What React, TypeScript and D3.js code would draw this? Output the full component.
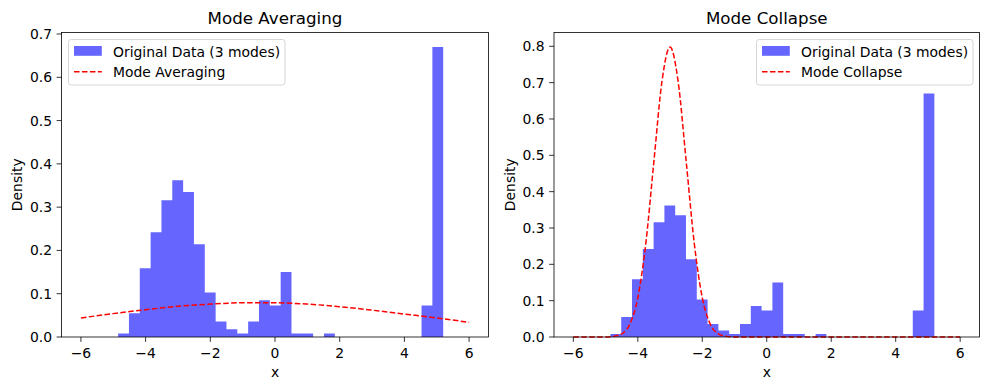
import * as d3 from "d3";

// histogram of the original data (density per bin), 30 equal bins
const histStart = -4.85;
const histEnd = 5.2;
const densities = [
  0.008, 0.055, 0.159, 0.242, 0.316, 0.362, 0.335, 0.214, 0.103, 0.036,
  0.018, 0.008, 0.036, 0.085, 0.073, 0.15, 0.008, 0.008, 0, 0.008,
  0, 0, 0, 0, 0, 0, 0, 0, 0.073, 0.67,
];

// mode averaging curve
const averagingX = [-6, -5, -4, -3, -2, -1, 0, 1, 2, 3, 4, 5, 6];
const averagingY = [0.044, 0.054, 0.063, 0.071, 0.076, 0.079, 0.079, 0.076, 0.07, 0.062, 0.053, 0.044, 0.034];

// mode collapse curve
const collapseX = [-6, -5.5, -5, -4.75, -4.5, -4.25, -4, -3.75, -3.5, -3.25, -3, -2.75, -2.5, -2.25, -2, -1.75, -1.5, -1.25, -1, -0.5, 6];
const collapseY = [0, 0, 0.0001, 0.0017, 0.0089, 0.035, 0.108, 0.259, 0.484, 0.704, 0.798, 0.704, 0.484, 0.259, 0.108, 0.035, 0.0089, 0.0017, 0.0001, 0, 0];

const xTicks = [-6, -4, -2, 0, 2, 4, 6];
const leftYTicks = [0, 0.1, 0.2, 0.3, 0.4, 0.5, 0.6, 0.7];
const rightYTicks = [0, 0.1, 0.2, 0.3, 0.4, 0.5, 0.6, 0.7, 0.8];

const FONT = "DejaVu Sans";
const TOP = 32.5;
const BOTTOM = 337;

function fmtTick(v: number) {
  return v < 0 ? "\u2212" + Math.abs(v) : String(v);
}

function Panel({ x0, x1, title, yMax, yTicks, lineX, lineY, lineName, legendLeft, yLabelX }) {
  const x = d3.scaleLinear().domain([-6.6, 6.6]).range([x0, x1]);
  const y = d3.scaleLinear().domain([0, yMax]).range([BOTTOM, TOP]);

  const edges = d3.range(densities.length + 1).map((i) =>
    d3.interpolateNumber(histStart, histEnd)(i / densities.length)
  );

  // all bars in one path so neighbouring bars don't show seams
  const bars = d3.path();
  densities.forEach((d, i) => {
    if (d > 0) bars.rect(x(edges[i]), y(d), x(edges[i + 1]) - x(edges[i]), y(0) - y(d));
  });

  const line = d3
    .line<number>()
    .x((_, i) => x(lineX[i]))
    .y((d) => y(d))
    .curve(d3.curveMonotoneX);

  const legendW = 216.5;
  const lx = legendLeft ? x0 + 7 : x1 - 6.5 - legendW;

  return (
    <g>
      {/* histogram bars */}
      <path d={bars.toString()} fill="#0000ff" fillOpacity={0.6} />

      {/* fitted curve */}
      <path d={line(lineY) || ""} fill="none" stroke="#ff0000" strokeWidth={1.5} strokeDasharray="5.55,2.4" />

      {/* spines */}
      <rect x={x0} y={TOP} width={x1 - x0} height={BOTTOM - TOP} fill="none" stroke="#000" strokeWidth={0.8} />

      {/* x ticks */}
      {xTicks.map((t) => (
        <g key={t}>
          <line x1={x(t)} x2={x(t)} y1={BOTTOM} y2={BOTTOM + 4.9} stroke="#000" strokeWidth={0.8} />
          <text x={x(t)} y={357.5} textAnchor="middle" fontSize={13.9} fontFamily={FONT} fill="#000">
            {fmtTick(t)}
          </text>
        </g>
      ))}

      {/* y ticks */}
      {yTicks.map((t) => (
        <g key={t}>
          <line x1={x0 - 4.9} x2={x0} y1={y(t)} y2={y(t)} stroke="#000" strokeWidth={0.8} />
          <text x={x0 - 9.5} y={y(t)} dy="0.36em" textAnchor="end" fontSize={13.9} fontFamily={FONT} fill="#000">
            {t.toFixed(1)}
          </text>
        </g>
      ))}

      {/* labels */}
      <text x={(x0 + x1) / 2} y={24} textAnchor="middle" fontSize={16.7} fontFamily={FONT} fill="#000">
        {title}
      </text>
      <text x={(x0 + x1) / 2} y={377} textAnchor="middle" fontSize={13.9} fontFamily={FONT} fill="#000">
        x
      </text>
      <text
        transform={`translate(${yLabelX},${(TOP + BOTTOM) / 2}) rotate(-90)`}
        textAnchor="middle"
        dy="0.36em"
        fontSize={13.9}
        fontFamily={FONT}
        fill="#000"
      >
        Density
      </text>

      {/* legend */}
      <g>
        <rect x={lx} y={39.5} width={legendW} height={45.5} rx={2.8} fill="#fff" fillOpacity={0.8} stroke="#cccccc" strokeWidth={0.8} />
        <rect x={lx + 5.5} y={46} width={27.8} height={9.8} fill="#0000ff" fillOpacity={0.6} />
        <line x1={lx + 5.5} x2={lx + 33.3} y1={71.8} y2={71.8} stroke="#ff0000" strokeWidth={1.5} strokeDasharray="5.55,2.4" />
        <text x={lx + 44.5} y={56.5} fontSize={13.9} fontFamily={FONT} fill="#000">
          Original Data (3 modes)
        </text>
        <text x={lx + 44.5} y={77} fontSize={13.9} fontFamily={FONT} fill="#000">
          {lineName}
        </text>
      </g>
    </g>
  );
}

export default function App() {
  return (
    <svg width={989} height={390} style={{ position: "absolute", left: 0, top: 0, background: "#fff" }}>
      <rect width={989} height={390} fill="#fff" />
      <Panel
        x0={61.5}
        x1={488.5}
        title="Mode Averaging"
        yMax={0.7035}
        yTicks={leftYTicks}
        lineX={averagingX}
        lineY={averagingY}
        lineName="Mode Averaging"
        legendLeft={true}
        yLabelX={17}
      />
      <Panel
        x0={554}
        x1={979.5}
        title="Mode Collapse"
        yMax={0.838}
        yTicks={rightYTicks}
        lineX={collapseX}
        lineY={collapseY}
        lineName="Mode Collapse"
        legendLeft={false}
        yLabelX={510}
      />
    </svg>
  );
}
